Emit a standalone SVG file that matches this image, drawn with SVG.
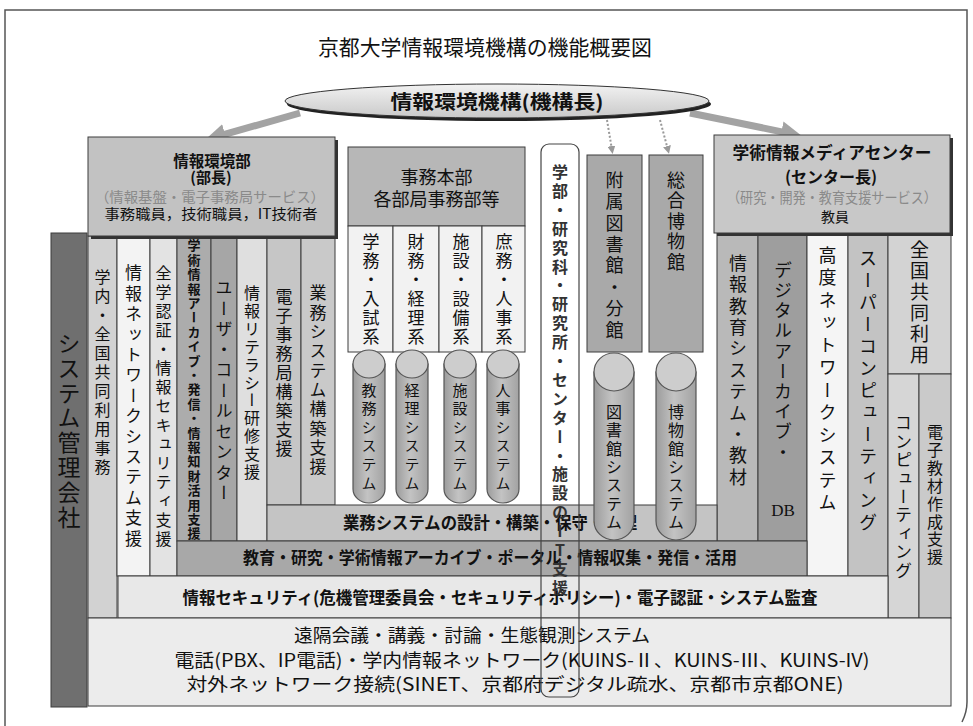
<svg xmlns="http://www.w3.org/2000/svg" width="973" height="726" viewBox="0 0 973 726">
<style>
text{font-family:"Noto Sans CJK JP","Noto Sans",sans-serif;fill:#111}
.v{writing-mode:vertical-rl}
.up{text-orientation:upright}
.b{font-weight:bold}
.g{fill:#8a8a8a}
.c{text-anchor:middle}
.bx{stroke:#3c3c3c;stroke-width:1}
.cyl{fill:url(#cylg);stroke:#555;stroke-width:1.2}
.cylt{fill:#cdcdcd;stroke:#555;stroke-width:1.2}
</style>
<defs>
<linearGradient id="cylg" x1="0" y1="0" x2="1" y2="0">
<stop offset="0" stop-color="#9c9c9c"/><stop offset="0.45" stop-color="#c3c3c3"/><stop offset="1" stop-color="#a2a2a2"/>
</linearGradient>
<linearGradient id="ellg" x1="0" y1="0" x2="0" y2="1">
<stop offset="0" stop-color="#f2f2f2"/><stop offset="1" stop-color="#c9c9c9"/>
</linearGradient>
<marker id="big" viewBox="0 0 10 10" refX="2" refY="5" markerWidth="3" markerHeight="3" orient="auto">
<path d="M0,0 L10,5 L0,10 z" fill="#a3a3a3"/>
</marker>
<marker id="small" viewBox="0 0 10 10" refX="5" refY="5" markerWidth="4" markerHeight="4" orient="auto">
<path d="M0,0 L10,5 L0,10 z" fill="#999"/>
</marker>
</defs>
<rect width="973" height="726" fill="#fff"/>
<path d="M5,726 V10 H967 V702 Q967,712 962,722" fill="none" stroke="#555" stroke-width="1.5"/>
<text class="c" x="485" y="55" style="font-size:21px" textLength="334" lengthAdjust="spacingAndGlyphs">京都大学情報環境機構の機能概要図</text>

<g id="connectors">
<line x1="300" y1="113" x2="221" y2="135.4" stroke="#a3a3a3" stroke-width="7" marker-end="url(#big)"/>
<line x1="690" y1="113" x2="785.5" y2="132.6" stroke="#a3a3a3" stroke-width="7" marker-end="url(#big)"/>
<line x1="607" y1="120" x2="612" y2="150" stroke="#999" stroke-width="2" stroke-dasharray="2,2" marker-end="url(#small)"/>
<line x1="660" y1="120" x2="668" y2="150" stroke="#999" stroke-width="2" stroke-dasharray="2,2" marker-end="url(#small)"/>
</g>

<g id="kikou">
<ellipse cx="499" cy="104" rx="212" ry="17" fill="#222"/>
<ellipse cx="497" cy="101" rx="212" ry="17" fill="url(#ellg)" stroke="#333"/>
<text class="c b" x="497" y="109" style="font-size:19px" textLength="213" lengthAdjust="spacingAndGlyphs">情報環境機構(機構長)</text>
</g>

<g id="system-kanri">
<rect class="bx" x="51" y="233" width="36" height="474" fill="#6f6f6f"/>
<text class="v" x="69" y="331.5" style="font-size:23px;letter-spacing:1.9px">システム管理会社</text>
</g>

<g id="left-columns">
<rect class="bx" x="88" y="236" width="29" height="382" fill="#d2d2d2"/>
<text class="v" x="102.5" y="269" style="font-size:16px;letter-spacing:3px">学内・全国共同利用事務</text>
<rect class="bx" x="117" y="236" width="33" height="340" fill="#f3f3f3"/>
<text class="v" x="133.5" y="264.5" style="font-size:17px;letter-spacing:3.4px">情報ネットワークシステム支援</text>
<rect class="bx" x="150" y="236" width="27" height="340" fill="#e3e3e3"/>
<text class="v" x="163.5" y="265" style="font-size:16px;letter-spacing:3px">全学認証・情報セキュリティ支援</text>
<rect class="bx" x="177" y="236" width="34" height="305" fill="#acacac"/>
<text class="v b" x="194" y="239" style="font-size:13px;letter-spacing:1.4px">学術情報アーカイブ・発信・情報知財活用支援</text>
<rect class="bx" x="211" y="236" width="26" height="305" fill="#a6a6a6"/>
<text class="v" x="224" y="279.5" style="font-size:17px;letter-spacing:3.5px">ユーザ・コールセンター</text>
<rect class="bx" x="237" y="236" width="30" height="305" fill="#dfdfdf"/>
<text class="v" x="252" y="285" style="font-size:16px;letter-spacing:1.9px">情報リテラシー研修支援</text>
<rect class="bx" x="267" y="236" width="34" height="269" fill="#c6c6c6"/>
<text class="v" x="284" y="288.5" style="font-size:17px;letter-spacing:1.9px">電子事務局構築支援</text>
<rect class="bx" x="301" y="236" width="34" height="269" fill="#c9c9c9"/>
<text class="v" x="318" y="284.5" style="font-size:17px;letter-spacing:2.3px">業務システム構築支援</text>
</g>

<g id="right-columns">
<rect class="bx" x="717" y="233" width="41" height="308" fill="#b9b9b9"/>
<text class="v" x="738" y="254" style="font-size:18px;letter-spacing:3.4px">情報教育システム・教材</text>
<rect class="bx" x="758" y="233" width="49" height="308" fill="#9e9e9e"/>
<text class="v" x="783" y="261" style="font-size:18px;letter-spacing:2.2px">デジタルアーカイブ・</text>
<text class="c" x="783" y="516" style="font-family:'Liberation Serif',serif;font-size:17px">DB</text>
<rect class="bx" x="807" y="233" width="41" height="343" fill="#f5f5f5"/>
<text class="v" x="827.5" y="246" style="font-size:18px;letter-spacing:4.5px">高度ネットワークシステム</text>
<rect class="bx" x="848" y="233" width="40" height="343" fill="#c3c3c3"/>
<text class="v" x="868" y="249" style="font-size:18px;letter-spacing:4px">スーパーコンピューティング</text>
<rect class="bx" x="888" y="233" width="63" height="141" fill="#d3d3d3"/>
<text class="v" x="919.5" y="240.5" style="font-size:19px;letter-spacing:2px">全国共同利用</text>
<rect class="bx" x="888" y="374" width="31" height="244" fill="#d6d6d6"/>
<text class="v" x="903.5" y="414.5" style="font-size:17px;letter-spacing:1.4px">コンピューティング</text>
<rect class="bx" x="919" y="374" width="32" height="244" fill="#cacaca"/>
<text class="v" x="935" y="424" style="font-size:16px;letter-spacing:1.9px">電子教材作成支援</text>
</g>

<g id="bar-gyomu">
<rect class="bx" x="267" y="505" width="450" height="36" fill="#c4c4c4"/>
<text class="c b" x="490" y="529" style="font-size:17px" textLength="294" lengthAdjust="spacingAndGlyphs">業務システムの設計・構築・保守・管理</text>
</g>
<g id="bar-kyoiku">
<rect class="bx" x="177" y="541" width="630" height="35" fill="#a8a8a8"/>
<text class="c b" x="490" y="564" style="font-size:17px" textLength="494" lengthAdjust="spacingAndGlyphs">教育・研究・学術情報アーカイブ・ポータル・情報収集・発信・活用</text>
</g>
<g id="bar-security">
<rect class="bx" x="118" y="576" width="770" height="42" fill="#e8e8e8"/>
<text class="c b" x="500" y="604" style="font-size:17px" textLength="635" lengthAdjust="spacingAndGlyphs">情報セキュリティ(危機管理委員会・セキュリティポリシー)・電子認証・システム監査</text>
</g>
<g id="base-network">
<rect class="bx" x="88" y="618" width="863" height="88" fill="#ececec"/>
<text class="c" x="472" y="642" style="font-size:18px" textLength="356" lengthAdjust="spacingAndGlyphs">遠隔会議・講義・討論・生態観測システム</text>
<text class="c" x="522" y="667" style="font-size:18px" textLength="695" lengthAdjust="spacingAndGlyphs">電話(PBX、IP電話)・学内情報ネットワーク(KUINS-Ⅱ、KUINS-Ⅲ、KUINS-IV)</text>
<text class="c" x="515" y="691" style="font-size:18px" textLength="657" lengthAdjust="spacingAndGlyphs">対外ネットワーク接続(SINET、京都府デジタル疏水、京都市京都ONE)</text>
</g>

<g id="johokankyobu">
<rect x="91" y="140" width="247" height="99" fill="#333"/>
<rect class="bx" x="88" y="137" width="247" height="99" fill="#c2c2c2"/>
<text class="c b" x="212" y="167" style="font-size:15.5px">情報環境部</text>
<text class="c b" x="211" y="183" style="font-size:15px">(部長)</text>
<text class="c g" x="210" y="202" style="font-size:14px" textLength="230" lengthAdjust="spacingAndGlyphs">（情報基盤・電子事務局サービス）</text>
<text class="c" x="211" y="219" style="font-size:14px" textLength="213" lengthAdjust="spacingAndGlyphs">事務職員，技術職員，IT技術者</text>
</g>

<g id="media-center">
<rect x="717" y="138" width="236" height="98" fill="#333"/>
<rect class="bx" x="714" y="135" width="236" height="98" fill="#c8c8c8"/>
<text class="c b" x="832" y="159" style="font-size:16.5px" textLength="199" lengthAdjust="spacingAndGlyphs">学術情報メディアセンター</text>
<text class="c b" x="831" y="183" style="font-size:16px">(センター長)</text>
<text class="c g" x="832" y="203" style="font-size:14.5px" textLength="210" lengthAdjust="spacingAndGlyphs">（研究・開発・教育支援サービス）</text>
<text class="c" x="835" y="222" style="font-size:14px">教員</text>
</g>

<g id="jimu-honbu">
<rect class="bx" x="348" y="147" width="177" height="79" fill="#b7b7b7"/>
<text class="c" x="436.5" y="184" style="font-size:18px">事務本部</text>
<text class="c" x="436.5" y="206" style="font-size:18px">各部局事務部等</text>
</g>
<g id="gakumu">
<rect class="bx" x="348" y="226" width="45" height="126" fill="#f2f2f2"/>
<text class="v" x="371" y="233.5" style="font-size:17px;letter-spacing:2px">学務・入試系</text>
</g>
<g id="zaimu">
<rect class="bx" x="393" y="226" width="46" height="126" fill="#f2f2f2"/>
<text class="v" x="416" y="233.5" style="font-size:17px;letter-spacing:2px">財務・経理系</text>
</g>
<g id="shisetsu">
<rect class="bx" x="439" y="226" width="43" height="126" fill="#f2f2f2"/>
<text class="v" x="461" y="233.5" style="font-size:17px;letter-spacing:2px">施設・設備系</text>
</g>
<g id="shomu">
<rect class="bx" x="482" y="226" width="43" height="126" fill="#f2f2f2"/>
<text class="v" x="504" y="233.5" style="font-size:17px;letter-spacing:2px">庶務・人事系</text>
</g>

<g id="toshokan">
<rect class="bx" x="587" y="155" width="55" height="197" fill="#a9a9a9"/>
<text class="v" x="614.5" y="171" style="font-size:18px;letter-spacing:3.4px">附属図書館・分館</text>
</g>
<g id="hakubutsukan">
<rect class="bx" x="649" y="155" width="54" height="197" fill="#a9a9a9"/>
<text class="v" x="676" y="171" style="font-size:18px;letter-spacing:2.5px">総合博物館</text>
</g>

<g id="cyl-kyomu">
<path class="cyl" d="M353,364 V489 A16,14 0 0 0 385,489 V364 Z"/>
<ellipse class="cylt" cx="369" cy="364" rx="16" ry="14"/>
<text class="v" x="369" y="382.5" style="font-size:15px;letter-spacing:3.6px">教務システム</text>
</g>
<g id="cyl-keiri">
<path class="cyl" d="M396,364 V489 A16,14 0 0 0 428,489 V364 Z"/>
<ellipse class="cylt" cx="412" cy="364" rx="16" ry="14"/>
<text class="v" x="412" y="382.5" style="font-size:15px;letter-spacing:3.6px">経理システム</text>
</g>
<g id="cyl-shisetsu">
<path class="cyl" d="M444,364 V489 A16,14 0 0 0 476,489 V364 Z"/>
<ellipse class="cylt" cx="460" cy="364" rx="16" ry="14"/>
<text class="v" x="460" y="382.5" style="font-size:15px;letter-spacing:3.6px">施設システム</text>
</g>
<g id="cyl-jinji">
<path class="cyl" d="M487,364 V489 A16,14 0 0 0 519,489 V364 Z"/>
<ellipse class="cylt" cx="503" cy="364" rx="16" ry="14"/>
<text class="v" x="503" y="382.5" style="font-size:15px;letter-spacing:3.6px">人事システム</text>
</g>
<g id="cyl-toshokan">
<path class="cyl" d="M594,372 V521 A20,19 0 0 0 634,521 V372 Z"/>
<ellipse class="cylt" cx="614" cy="372" rx="20" ry="19"/>
<text class="v" x="614" y="404" style="font-size:16px;letter-spacing:2.3px">図書館システム</text>
</g>
<g id="cyl-hakubutsukan">
<path class="cyl" d="M656,372 V521 A20,19 0 0 0 696,521 V372 Z"/>
<ellipse class="cylt" cx="676" cy="372" rx="20" ry="19"/>
<text class="v" x="676" y="404" style="font-size:16px;letter-spacing:2.3px">博物館システム</text>
</g>

<g id="gakubu-it">
<rect x="541" y="144" width="38" height="553" rx="8" fill="none" stroke="#444" stroke-width="1.2"/>
<text class="v up b" x="560" y="164" style="font-size:16px;letter-spacing:2.9px;fill:#333">学部・研究科・研究所・センター・施設のIT支援</text>
</g>
</svg>
